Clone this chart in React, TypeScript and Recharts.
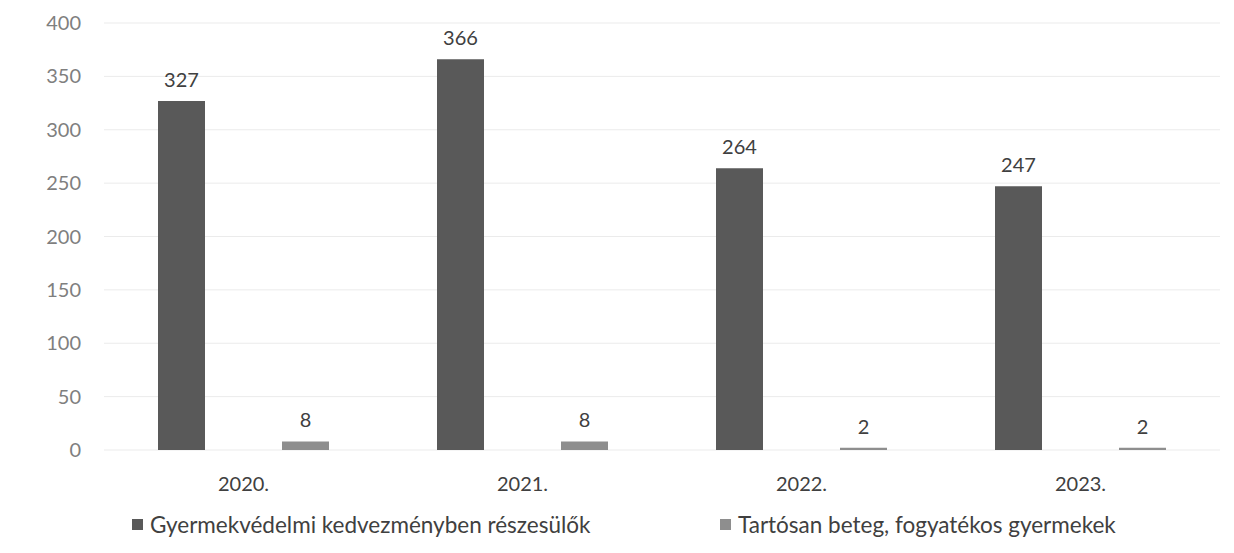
import { BarChart, Bar, XAxis, YAxis, CartesianGrid, Legend, LabelList } from "recharts";

const years = ["2020.", "2021.", "2022.", "2023."];
const kedvezmeny = [327, 366, 264, 247];
const tartosan = [8, 8, 2, 2];
const yTicks = [0, 50, 100, 150, 200, 250, 300, 350, 400];

const seriesNames = {
  kedvezmeny: "Gyermekvédelmi kedvezményben részesülők",
  tartosan: "Tartósan beteg, fogyatékos gyermekek",
};

const DARK = "#595959";
const LIGHT = "#8e8e8e";
const FONT = "Lato, 'Open Sans', sans-serif";

const data = years.map((year, i) => ({
  year,
  kedvezmeny: kedvezmeny[i],
  tartosan: tartosan[i],
}));

function ChartLegend() {
  const items = [
    { name: seriesNames.kedvezmeny, color: DARK, left: 132 },
    { name: seriesNames.tartosan, color: LIGHT, left: 720 },
  ];
  return (
    <div style={{ position: "relative", height: 36 }}>
      {items.map((it) => (
        <div
          key={it.name}
          style={{ position: "absolute", left: it.left, top: 0, height: 36, display: "flex", alignItems: "center" }}
        >
          <span style={{ width: 11, height: 11, background: it.color, marginRight: 7, display: "inline-block" }} />
          <span style={{ fontFamily: FONT, fontSize: 22.5, color: "#404040", whiteSpace: "nowrap" }}>{it.name}</span>
        </div>
      ))}
    </div>
  );
}

export default function App() {
  return (
    <div style={{ position: "absolute", left: 0, top: 0, background: "#fff" }}>
      <BarChart
        width={1234}
        height={553}
        data={data}
        margin={{ top: 23, right: 14, bottom: 11, left: 0 }}
        barGap={77}
        barCategoryGap={54}
      >
        <CartesianGrid vertical={false} stroke="#ebebeb" />
        <XAxis
          dataKey="year"
          axisLine={false}
          tickLine={false}
          tickSize={0}
          tickMargin={27}
          height={56}
          tick={{ fill: "#404040", fontSize: 20, fontFamily: FONT }}
        />
        <YAxis
          width={104}
          domain={[0, 400]}
          ticks={yTicks}
          axisLine={false}
          tickLine={false}
          tickSize={0}
          tickMargin={23}
          tick={{ fill: "#7f7f7f", fontSize: 20, fontFamily: FONT }}
        />
        <Legend verticalAlign="bottom" content={() => <ChartLegend />} wrapperStyle={{ left: 0, width: 1234 }} />
        <Bar dataKey="kedvezmeny" name={seriesNames.kedvezmeny} fill={DARK} barSize={47} isAnimationActive={false}>
          <LabelList dataKey="kedvezmeny" position="top" offset={14} style={{ fill: "#404040", fontSize: 20, fontFamily: FONT }} />
        </Bar>
        <Bar dataKey="tartosan" name={seriesNames.tartosan} fill={LIGHT} barSize={47} isAnimationActive={false}>
          <LabelList dataKey="tartosan" position="top" offset={14} style={{ fill: "#404040", fontSize: 20, fontFamily: FONT }} />
        </Bar>
      </BarChart>
    </div>
  );
}
